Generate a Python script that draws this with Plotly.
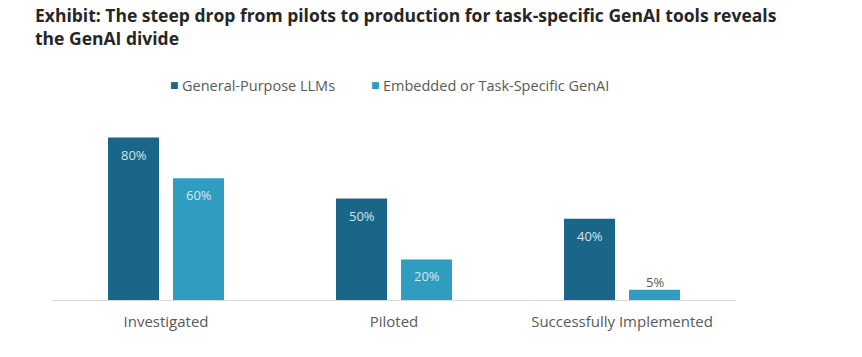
import plotly.graph_objects as go

categories = ["Investigated", "Piloted", "Successfully Implemented"]
series_names = ["General-Purpose LLMs", "Embedded or Task-Specific GenAI"]
general_purpose = [80, 50, 40]
task_specific = [60, 20, 5]
colors = ["#1a6689", "#2f9dc0"]
label_colors = ["#d5e3ea", "#d8e9ef"]

FONT = "'Open Sans', Lato, sans-serif"

# plot-area geometry (pixels)
W, H = 862, 357
L, R, T, B = 52, 736, 110, 300
PW, PH = R - L, B - T


def px(x):
    return (x - L) / PW


def py(y):
    return 1 + (T - y) / PH


fig = go.Figure()
for name, vals, col in zip(series_names, [general_purpose, task_specific], colors):
    fig.add_trace(go.Bar(x=categories, y=vals, name=name, showlegend=False,
                         marker=dict(color=col, line=dict(width=0))))

annotations = []
# value labels placed at bar tops
for k, (vals, lc) in enumerate(zip([general_purpose, task_specific], label_colors)):
    xs = -32.5 if k == 0 else 32.5
    for c, v in zip(categories, vals):
        inside = v >= 15
        annotations.append(dict(
            x=c, y=v, xref="x", yref="y", text=f"{v}%", showarrow=False,
            xshift=xs, yshift=-17 if inside else 8,
            font=dict(family=FONT, size=13, color=lc if inside else "#595959"),
        ))

# title
annotations.append(dict(
    x=px(33), y=py(1), xref="paper", yref="paper", xanchor="left", yanchor="top", align="left",
    showarrow=False,
    text="<b>Exhibit: The steep drop from pilots to production for task-specific GenAI tools reveals<br>the GenAI divide</b>",
    font=dict(family=FONT, size=17.5, color="#262626"),
))

# legend
legend_pos = [(174, 180), (375, 381)]
for (mx, tx), name, col in zip(legend_pos, series_names, colors):
    annotations.append(dict(x=px(mx), y=py(85), xref="paper", yref="paper", xanchor="center",
                            yanchor="middle", showarrow=False, text="■",
                            font=dict(family="DejaVu Sans", size=9, color=col)))
    annotations.append(dict(x=px(tx), y=py(85), xref="paper", yref="paper", xanchor="left",
                            yanchor="middle", showarrow=False, text=name,
                            font=dict(family=FONT, size=14.5, color="#595959")))

fig.update_layout(
    width=W, height=H,
    paper_bgcolor="white", plot_bgcolor="white",
    margin=dict(l=L, r=W - R, t=T, b=H - B),
    barmode="group", bargap=0.43, bargroupgap=0.215,
    font=dict(family=FONT, color="#595959"),
    showlegend=False,
    xaxis=dict(showline=True, linecolor="#d9d9d9", linewidth=1, ticks="", showgrid=False,
               ticklabelstandoff=8,
               tickfont=dict(family=FONT, size=15, color="#595959")),
    yaxis=dict(range=[0, PH / 2.03], visible=False, showgrid=False, zeroline=False),
    annotations=annotations,
)

fig.write_html("out.html", config={"displayModeBar": False},
               post_script="document.body.style.margin='0';")
